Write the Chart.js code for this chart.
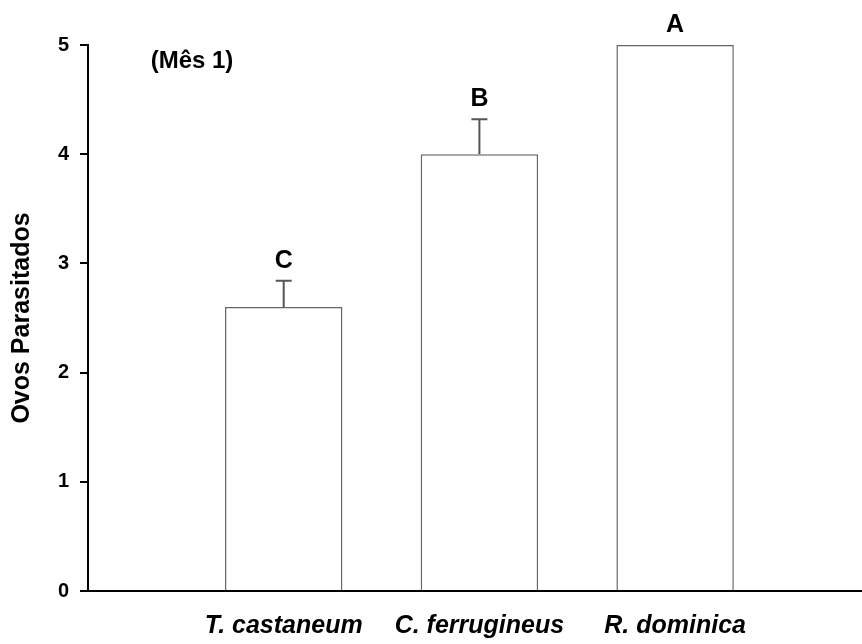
<!DOCTYPE html>
<html>
<head>
<meta charset="utf-8">
<script src="https://cdn.jsdelivr.net/npm/chart.js@4/dist/chart.umd.min.js"></script>
<style>
html,body{margin:0;padding:0;background:#fff;}
canvas{display:block;}
</style>
</head>
<body>
<canvas id="c" width="862" height="644"></canvas>
<script>
const categories = ['T. castaneum', 'C. ferrugineus', 'R. dominica'];
const means = [2.6, 4.0, 5.0];
const errors = [0.24, 0.32, 0];
const letters = ['C', 'B', 'A'];
const yTicks = [0, 1, 2, 3, 4, 5];
const panelLabel = '(Mês 1)';
const yTitle = 'Ovos Parasitados';

const FONT = "'Liberation Sans', Arial, sans-serif";
const positions = categories.map((_, i) => i + 1);

const extras = {
  id: 'extras',
  afterDatasetsDraw(chart) {
    const {ctx, scales: {x, y}, chartArea} = chart;
    ctx.save();
    // error bars
    ctx.strokeStyle = '#555';
    ctx.lineWidth = 2;
    means.forEach((m, i) => {
      if (!errors[i]) return;
      const px = x.getPixelForValue(positions[i]);
      const y1 = y.getPixelForValue(m);
      const y2 = y.getPixelForValue(m + errors[i]);
      ctx.beginPath();
      ctx.moveTo(px, y1);
      ctx.lineTo(px, y2);
      ctx.moveTo(px - 8, y2);
      ctx.lineTo(px + 8, y2);
      ctx.stroke();
    });
    // letters
    ctx.fillStyle = '#000';
    ctx.font = 'bold 25px ' + FONT;
    ctx.textAlign = 'center';
    ctx.textBaseline = 'middle';
    means.forEach((m, i) => {
      const px = x.getPixelForValue(positions[i]);
      const top = y.getPixelForValue(m + errors[i]);
      ctx.fillText(letters[i], px, top - 20);
    });
    // panel label
    ctx.font = 'bold 24px ' + FONT;
    ctx.fillText(panelLabel, chartArea.left + 104, chartArea.top + 16);
    ctx.restore();
  }
};

new Chart(document.getElementById('c'), {
  type: 'bar',
  data: {
    datasets: [{
      data: positions.map((p, i) => ({x: p, y: means[i]})),
      backgroundColor: '#ffffff',
      borderColor: '#666666',
      borderWidth: 1.5,
      categoryPercentage: 1,
      barPercentage: 0.6
    }]
  },
  options: {
    responsive: false,
    animation: false,
    layout: {padding: {left: 0, right: 0, top: 45, bottom: 0}},
    plugins: {legend: {display: false}, tooltip: {enabled: false}},
    scales: {
      x: {
        type: 'linear',
        min: 0,
        max: 3.955,
        offset: false,
        afterBuildTicks: s => { s.ticks = positions.map(v => ({value: v})); },
        afterFit: s => { s.height = 53; },
        grid: {display: false, drawTicks: false},
        border: {display: true, color: '#000', width: 2},
        ticks: {
          autoSkip: false,
          maxRotation: 0,
          padding: 20,
          color: '#000',
          font: {family: FONT, size: 25, weight: 'bold', style: 'italic'},
          callback: v => categories[positions.indexOf(v)] ?? ''
        }
      },
      y: {
        min: 0,
        max: 5,
        afterBuildTicks: s => { s.ticks = yTicks.map(v => ({value: v})); },
        afterFit: s => { s.width = 88; },
        grid: {drawOnChartArea: false, drawTicks: true, tickLength: 8, color: '#000', lineWidth: 2},
        border: {display: true, color: '#000', width: 2},
        ticks: {
          padding: 11,
          color: '#000',
          font: {family: FONT, size: 20, weight: 'bold'}
        },
        title: {
          display: true,
          text: yTitle,
          color: '#000',
          padding: {top: 7, bottom: 0},
          font: {family: FONT, size: 25, weight: 'bold'}
        }
      }
    }
  },
  plugins: [extras]
});
</script>
</body>
</html>
